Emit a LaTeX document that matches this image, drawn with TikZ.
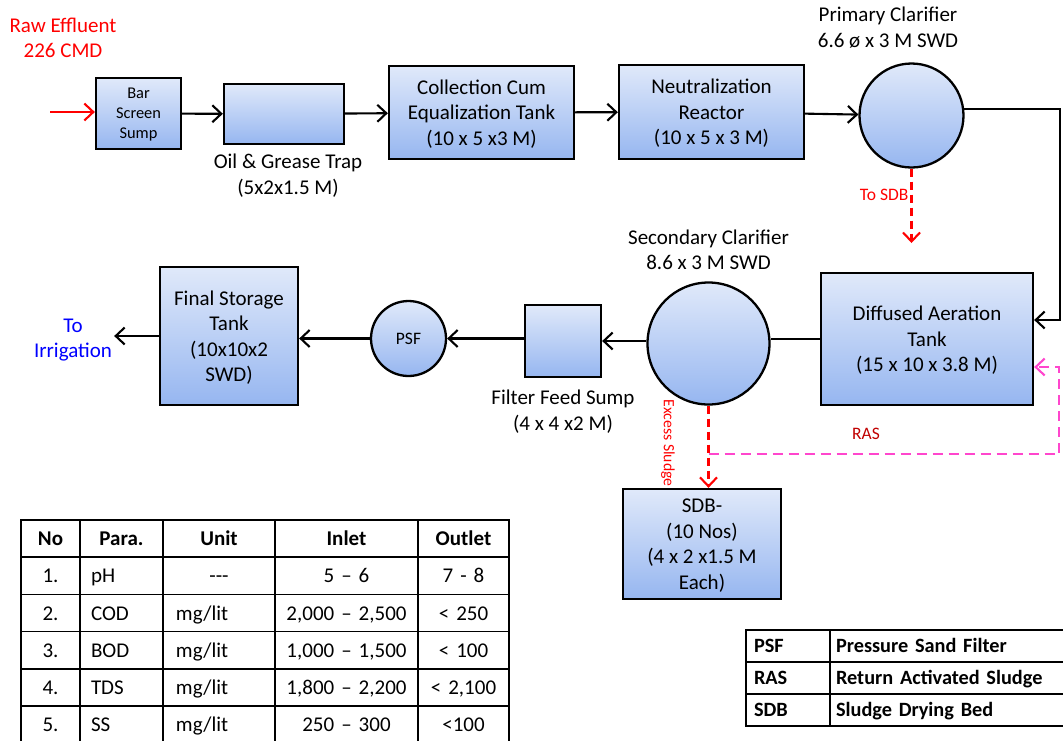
\documentclass[tikz,border=0pt]{standalone}
\usepackage{fontspec}
\setmainfont{Carlito}
\usetikzlibrary{arrows.meta, positioning, matrix}

\definecolor{tanktop}{RGB}{224,233,250}
\definecolor{tankbot}{RGB}{150,182,240}
\definecolor{rawred}{RGB}{255,0,0}
\definecolor{rasred}{RGB}{192,0,0}
\definecolor{raspink}{RGB}{255,70,205}
\definecolor{irrblue}{RGB}{0,0,255}

\begin{document}
\begin{tikzpicture}[x=1pt, y=-1pt, >={Straight Barb[length=9pt,width=17pt]},
  font=\fontsize{21}{25.5}\selectfont]
  \tikzset{
    tank/.style={
      draw=black,
      line width=2.3pt,
      top color=tanktop,
      bottom color=tankbot,
      align=center,
      text depth=0pt,
      inner sep=0pt},
    clar/.style={
      tank,
      circle},
    lbl/.style={
      align=center,
      inner sep=2pt},
    flow/.style={->, line width=2.1pt},
    pipe/.style={line width=2.1pt},
    sludge/.style={->, draw=rawred, line width=2.1pt, dash pattern=on 8pt off 5pt},
    ras/.style={->, draw=raspink, line width=2.1pt, dash pattern=on 10pt off 6pt},
    small/.style={font=\fontsize{16.4}{20}\selectfont},
    note/.style={inner sep=2pt, font=\fontsize{17.5}{21}\selectfont},
    cell/.style={
      draw,
      line width=1.6pt,
      inner xsep=5pt,
      minimum height=37.2pt,
      text height=15pt,
      text depth=1pt},
    hdr/.style={font=\fontsize{21}{25.5}\selectfont\bfseries, align=center},
    abbrcell/.style={
      draw,
      line width=1.6pt,
      minimum height=32pt,
      text height=15pt,
      text depth=2pt,
      font=\fontsize{20.3}{25}\selectfont\bfseries,
      align=left}}

  \useasboundingbox (0,0) rectangle (1063,740);

  % upper stream
  \node[lbl, text=rawred] (raw) at (63,38) {Raw Effluent\\226 CMD};
  \coordinate (inlet) at (50,112);
  \node[tank, small, minimum width=85pt, minimum height=71pt] (bar) at (138.5,113.5) {Bar\\Screen\\Sump};
  \node[tank, minimum width=120pt, minimum height=60pt] (oil) at (284,114) {};
  \node[lbl, below=7pt of oil, xshift=4pt] (oillbl) {Oil \& Grease Trap\\(5x2x1.5 M)};
  \node[tank, minimum width=185pt, minimum height=93pt] (coll) at (481.5,112.5) {Collection Cum\\Equalization Tank\\(10 x 5 x3 M)};
  \node[tank, minimum width=185pt, minimum height=94pt] (neut) at (711.5,112) {Neutralization\\Reactor\\(10 x 5 x 3 M)};
  \node[clar, minimum size=104pt] (prim) at (911.5,115.5) {};
  \node[lbl, above=12pt of prim, xshift=-23.5pt] (primlbl) {Primary Clarifier\\6.6 ø x 3 M SWD};
  \coordinate (sdbtip) at (911.5,243);
  \coordinate (rtcorner) at (1060,320);

  % lower stream
  \node[tank, minimum width=212pt, minimum height=132pt] (aer) at (927,339) {Diffused Aeration\\Tank\\(15 x 10 x 3.8 M)};
  \node[clar, minimum size=122pt] (sec) at (708.5,343.5) {};
  \node[lbl, above=9pt of sec] (seclbl) {Secondary Clarifier\\8.6 x 3 M SWD};
  \node[tank, minimum width=76pt, minimum height=72pt] (sump) at (563,341) {};
  \node[lbl, below=10pt of sump] (sumplbl) {Filter Feed Sump\\(4 x 4 x2 M)};
  \node[clar, note, minimum size=75pt] (psf) at (408.5,338.5) {PSF};
  \node[tank, minimum width=138pt, minimum height=138pt] (final) at (229,336) {Final Storage\\Tank\\(10x10x2\\SWD)};
  \node[lbl, text=irrblue] (irr) at (73,340) {To\\Irrigation};
  \node[tank, minimum width=158pt, minimum height=110pt] (sdb) at (702,544) {SDB-\\(10 Nos)\\(4 x 2 x1.5 M\\Each)};
  \node[note, text=rawred, rotate=-90, font=\fontsize{15.7}{19}\selectfont] (exsl) at (668,443) {Excess Sludge};
  \coordinate (rasturn) at (1059,454);
  \node[note, text=rasred] (raslbl) at (866,434) {RAS};

  \draw[flow, draw=rawred] (inlet) -- (inlet -| bar.west);
  \draw[flow] (bar) -- (oil);
  \draw[flow] (oil) -- (coll);
  \draw[flow] (coll) -- (neut);
  \draw[flow] (neut) -- (prim);
  \draw[flow] (prim.7) -| (rtcorner) -- (rtcorner -| aer.east);
  \draw[sludge] (prim.south) -- node[note, left, pos=0.35, text=rawred] (tosdb) {To SDB} (sdbtip);

  \draw[pipe] (aer.west) -- (aer.west -| sec.east);
  \draw[flow] (sec.west |- sump.east) -- (sump.east);
  \draw[flow] (sump.west |- psf.east) -- (psf.east);
  \draw[flow] (psf.west) -- (psf.west -| final.east);
  \draw[flow] (final.west) -- (final.west -| irr.east);
  \draw[sludge] (sec.south) -- (sec.south |- sdb.north);
  \draw[ras] (sec.south |- rasturn) -- (rasturn) |- ([yshift=-28pt]aer.east);

  % parameter table
  \matrix (params) [matrix of nodes, anchor=north west, inner sep=0pt,
    column sep=-1.6pt, row sep=-1.6pt, nodes={cell},
    column 1/.style={nodes={text width=49pt, align=center}},
    column 2/.style={nodes={text width=61pt, inner xsep=11pt, align=left}},
    column 3/.style={nodes={text width=86pt, inner xsep=13pt, align=left}},
    column 4/.style={nodes={text width=133pt, align=center}},
    column 5/.style={nodes={text width=81pt, align=center}}] at (20,519) {
    |[hdr]| No & |[hdr]| Para. & |[hdr]| Unit & |[hdr]| Inlet & |[hdr]| Outlet \\
    1. & pH & |[align=center]| {-}{-}{-} & 5 – 6 & 7 - 8 \\
    2. & COD & mg/lit & 2,000 – 2,500 & < 250 \\
    3. & BOD & mg/lit & 1,000 – 1,500 & < 100 \\
    4. & TDS & mg/lit & 1,800 – 2,200 & < 2,100 \\
    5. & SS & mg/lit & 250 – 300 & <100 \\
  };

  % abbreviations
  \matrix (abbr) [matrix of nodes, anchor=north west, inner sep=0pt,
    column sep=-1.6pt, row sep=-1.6pt, nodes={abbrcell},
    column 1/.style={nodes={text width=68pt, inner xsep=8pt}},
    column 2/.style={nodes={text width=224pt, inner xsep=6pt}}] at (745,629) {
    PSF & Pressure Sand Filter \\
    RAS & Return Activated Sludge \\
    SDB & Sludge Drying Bed \\
  };

\end{tikzpicture}
\end{document}
